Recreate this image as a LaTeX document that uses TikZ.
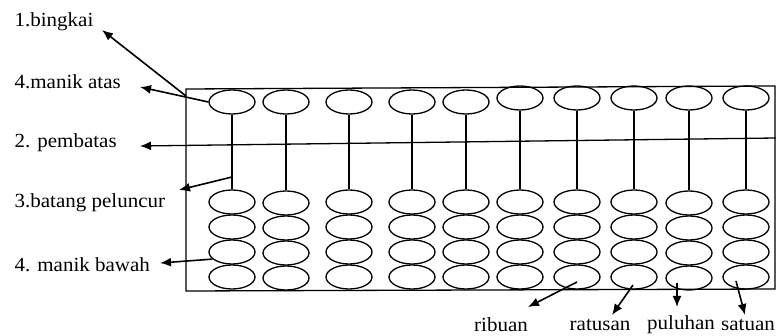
\documentclass[tikz,border=0pt]{standalone}
\usepackage{fontspec}
\setmainfont{Liberation Serif}[FakeStretch=1.05]
\usetikzlibrary{shapes.geometric,arrows.meta}
\tikzset{
	bead/.style={draw,ellipse,minimum width=46pt,minimum height=24pt,inner sep=0pt},
	pointer/.style={line width=1.6pt,-{Latex[length=11pt,width=9pt]}},
	lbl/.style={anchor=west,inner sep=0pt,font=\fontsize{20}{23}\selectfont},
	lbldown/.style={inner sep=0pt,font=\fontsize{20}{23}\selectfont},
}
\begin{document}
\begin{tikzpicture}[x=1pt,y=-1pt,line width=1.3pt]
	\useasboundingbox (0,0) rectangle (776,336);
	% frame of the abacus
	\coordinate (tl) at (186,89);
	\coordinate (tr) at (775,86);
	\coordinate (br) at (775,289);
	\coordinate (bl) at (186,291);
	\draw (tl) -- (tr) -- (br) -- (bl) -- cycle;
	% rods, one upper bead and four lower beads each
	\foreach \i/\x/\yt/\yb in {1/232/102/202, 2/286/102/203, 3/349/102/202, 4/412/102/202, 5/466/102/202,
		6/520/98/202, 7/577/98/202, 8/634/98/202, 9/689/98/203, 10/746/98/202} {
		\node[bead] (t\i) at (\x,\yt) {};
		\foreach \k in {1,...,4}
			\node[bead] (b\i-\k) at (\x,{\yb+25*(\k-1)}) {};
		\draw (t\i.south) -- (b\i-1.north);
	}
	% labels on the left
	\node[lbl] (bingkai) at (14,22) {1.bingkai};
	\node[lbl] (atas) at (14,82) {4.manik atas};
	\node[lbl] (pembatas) at (14,143) {2. pembatas};
	\node[lbl] (batang) at (14,203) {3.batang peluncur};
	\node[lbl] (bawah) at (14,265) {4. manik bawah};
	% place values below
	\node[lbldown] (ribuan) at (501,325) {ribuan};
	\node[lbldown] (ratusan) at (600,325) {ratusan};
	\node[lbldown] (puluhan) at (681,325) {puluhan};
	\node[lbldown] (satuan) at (748,325) {satuan};
	% arrow ends
	\coordinate (corner) at (186,96);
	\coordinate (p1) at (102,30);
	\coordinate (p4) at (140,87);
	\coordinate (divR) at (776,138);
	\coordinate (p2) at (140,146);
	\coordinate (rod) at (232,177);
	\coordinate (p3) at (179,190);
	\coordinate (p5) at (160,263);
	\coordinate (s1) at (577,282);
	\coordinate (q1) at (528,307);
	\coordinate (s2) at (633,285);
	\coordinate (q2) at (612,315);
	\coordinate (s3) at (677,283);
	\coordinate (q3) at (677,307);
	\coordinate (s4) at (736,281);
	\coordinate (q4) at (745,315);
	% pointers
	\draw[pointer] (corner) -- (p1);
	\draw[pointer] (t1.west) -- (p4);
	\draw[line width=1.3pt,-{Latex[length=11pt,width=9pt]}] (divR) -- (p2);
	\draw[pointer] (rod) -- (p3);
	\draw[pointer] (b1-3.200) -- (p5);
	\draw[pointer] (s1) -- (q1);
	\draw[pointer] (s2) -- (q2);
	\draw[pointer] (s3) -- (q3);
	\draw[pointer] (s4) -- (q4);
\end{tikzpicture}
\end{document}
